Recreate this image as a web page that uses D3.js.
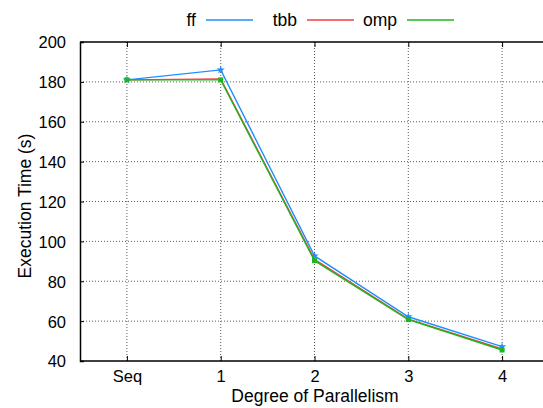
<!DOCTYPE html>
<html lang="en">
<head>
<meta charset="UTF-8">
<title>Execution Time</title>
<script src="https://cdn.jsdelivr.net/npm/d3@7"></script>
<style>
  body { margin: 0; background: #fff; }
  svg { font-family: "Liberation Sans", Arial, sans-serif; }
</style>
</head>
<body>
<div class="chart"></div>
<script>
    const categories = ['Seq', '1', '2', '3', '4']
    const ff = [181, 186, 92.7, 62.2, 47.2]
    const tbb = [181, 181.5, 91, 61, 46]
    const omp = [181, 181, 90.3, 60.8, 45.5]
    const yTicks = [40, 60, 80, 100, 120, 140, 160, 180, 200]

    const width = 543
    const height = 408
    const padding = { top: 42, right: -6, bottom: 47, left: 80 }

    const svg = d3.select('.chart').append('svg')
        .attr('width', width)
        .attr('height', height)

    const xScale = d3.scaleLinear()
        .domain([-0.5, categories.length - 0.5])
        .range([padding.left, width - padding.right])
    const yScale = d3.scaleLinear()
        .domain([40, 200])
        .range([height - padding.bottom, padding.top])

    // grid
    const grid = svg.append('g').attr('stroke', '#333').attr('stroke-width', 0.8).attr('stroke-dasharray', '1,2')
    grid.selectAll('.hg').data(yTicks.slice(1, -1)).enter().append('line')
        .attr('x1', padding.left).attr('x2', width)
        .attr('y1', d => yScale(d)).attr('y2', d => yScale(d))
    grid.selectAll('.vg').data(categories).enter().append('line')
        .attr('x1', (d, i) => xScale(i)).attr('x2', (d, i) => xScale(i))
        .attr('y1', padding.top).attr('y2', height - padding.bottom)

    // top border with mirrored ticks
    const xTop = d3.axisTop(xScale).tickValues(d3.range(categories.length)).tickSize(-5).tickFormat('')
    const gTop = svg.append('g').attr('transform', `translate(0,${padding.top})`).call(xTop)
    gTop.select('.domain').attr('d', `M${padding.left},0H${width}`).attr('stroke-width', 1.5)

    const yAxis = d3.axisLeft(yScale).tickValues(yTicks).tickSize(-4).tickPadding(14)
    const gY = svg.append('g').attr('transform', `translate(${padding.left},0)`).call(yAxis)
    const xAxis = d3.axisBottom(xScale).tickValues(d3.range(categories.length))
        .tickFormat(i => categories[i]).tickSize(-5).tickPadding(10)
    const gX = svg.append('g').attr('transform', `translate(0,${height - padding.bottom})`).call(xAxis)
    gX.select('.domain').attr('d', `M${padding.left},0H${width}`)
    ;[gX, gY].forEach(g => {
        g.select('.domain').attr('stroke-width', 1.5)
        g.selectAll('text').attr('font-size', 16.5).attr('fill', '#000')
            .attr('font-family', '"Liberation Sans", Arial, sans-serif')
    })
    gY.selectAll('text').attr('dy', '0.36em')
    gX.selectAll('text').attr('dy', '0.68em')

    // axis titles
    svg.append('text').attr('transform', `translate(31,206) rotate(-90)`)
        .attr('text-anchor', 'middle').attr('font-size', 17.5).text('Execution Time (s)')
    svg.append('text').attr('x', 315).attr('y', 402)
        .attr('text-anchor', 'middle').attr('font-size', 17.5).text('Degree of Parallelism')

    const series = [
        { name: 'ff', values: ff, color: '#1e8fff', marker: 'star', lx: 206 },
        { name: 'tbb', values: tbb, color: '#f04040', marker: null, lx: 307 },
        { name: 'omp', values: omp, color: '#1fb51f', marker: 'square', lx: 407 }
    ]
    const line = d3.line().x((d, i) => xScale(i)).y(d => yScale(d))

    series.forEach(s => {
        svg.append('path').datum(s.values)
            .attr('fill', 'none').attr('stroke', s.color).attr('stroke-width', 1.4)
            .attr('d', line)
        if (s.marker === 'square') {
            svg.selectAll('.m-' + s.name).data(s.values).enter().append('rect')
                .attr('x', (d, i) => xScale(i) - 2.5).attr('y', d => yScale(d) - 2.5)
                .attr('width', 5).attr('height', 5).attr('fill', s.color)
        } else if (s.marker === 'star') {
            svg.selectAll('.m-' + s.name).data(s.values).enter().append('path')
                .attr('transform', (d, i) => `translate(${xScale(i)},${yScale(d)})`)
                .attr('d', d3.symbol(d3.symbolStar, 22))
                .attr('fill', s.color)
        }
        // legend
        svg.append('text').attr('x', s.lx - 10).attr('y', 26).attr('text-anchor', 'end')
            .attr('font-size', 17.5).text(s.name)
        svg.append('line').attr('x1', s.lx).attr('x2', s.lx + 47)
            .attr('y1', 20).attr('y2', 20).attr('stroke', s.color).attr('stroke-width', 1.4)
    })
</script>
</body>
</html>
